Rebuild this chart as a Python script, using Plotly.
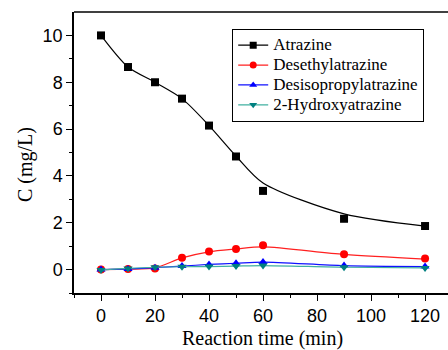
import plotly.graph_objects as go

time = [0, 10, 20, 30, 40, 50, 60, 90, 120]
atrazine = [10.0, 8.65, 8.0, 7.3, 6.15, 4.83, 3.36, 2.17, 1.86]
atrazine_fit = [10.0, 8.65, 8.0, 7.3, 6.15, 4.85, 3.7, 2.38, 1.86]
desethyl = [0.0, 0.02, 0.05, 0.51, 0.77, 0.88, 1.04, 0.65, 0.47]
desethyl_fit = [0.0, 0.02, 0.07, 0.5, 0.76, 0.88, 0.97, 0.65, 0.45]
desisopropyl = [0.0, 0.03, 0.08, 0.15, 0.22, 0.27, 0.32, 0.17, 0.13]
hydroxy = [-0.02, 0.05, 0.1, 0.12, 0.13, 0.15, 0.17, 0.1, 0.07]

names = ["Atrazine", "Desethylatrazine", "Desisopropylatrazine", "2-Hydroxyatrazine"]
line_colors = ["#000000", "#ff2020", "#1010ff", "#40b0a0"]
marker_colors = ["#000000", "#ff0000", "#0000ff", "#008080"]
symbols = ["square", "circle", "triangle-up", "triangle-down"]
markers_y = [atrazine, desethyl, desisopropyl, hydroxy]
fits_y = [atrazine_fit, desethyl_fit, desisopropyl, hydroxy]

fig = go.Figure()
for name, lc, mc, sym, my, fy in zip(names, line_colors, marker_colors, symbols, markers_y, fits_y):
    fig.add_trace(go.Scatter(
        x=time, y=fy, mode="lines", line=dict(color=lc, width=1.2, shape="spline", smoothing=0.8),
        showlegend=False, hoverinfo="skip"))
    fig.add_trace(go.Scatter(
        x=time, y=my, mode="markers", name=name,
        marker=dict(symbol=sym, size=8, color=mc), showlegend=False))

# legend entries with line + marker
for name, lc, mc, sym in zip(names, line_colors, marker_colors, symbols):
    fig.add_trace(go.Scatter(
        x=[None], y=[None], mode="lines+markers",
        name='<span style="font-size:17px">' + name + '</span>',
        line=dict(color=lc, width=1.2), marker=dict(symbol=sym, size=7, color=mc)))

L, R, T, B = 74, 0, 12, 57
pw = 448 - L - R
ph = 350 - T - B

fig.update_layout(
    width=448, height=350,
    margin=dict(l=L, r=R, t=T, b=B, autoexpand=False),
    paper_bgcolor="white", plot_bgcolor="white",
    font=dict(family="Liberation Sans, Arial", size=18, color="black"),
    showlegend=True,
    legend=dict(
        x=(232 - L) / pw, y=1 - (29 - T) / ph, xanchor="left", yanchor="top",
        font=dict(family="Liberation Serif, Times New Roman", size=13, color="black"),
        bordercolor="black", borderwidth=1.2, bgcolor="white",
        tracegroupgap=0,
    ),
    annotations=[
        dict(text="C (mg/L)", textangle=-90, x=(25 - L) / pw, y=1 - (165 - T) / ph,
             xref="paper", yref="paper", showarrow=False,
             font=dict(family="Liberation Serif, Times New Roman", size=20, color="black"),
             xanchor="center", yanchor="middle"),
        dict(text="Reaction time (min)", x=(262 - L) / pw, y=1 - (338 - T) / ph,
             xref="paper", yref="paper", showarrow=False,
             font=dict(family="Liberation Serif, Times New Roman", size=20, color="black"),
             xanchor="center", yanchor="middle"),
    ],
)

fig.update_xaxes(
    range=[-10, 128.5], tickvals=[0, 20, 40, 60, 80, 100, 120], automargin=False,
    showgrid=False, zeroline=False, showline=True, linecolor="black", linewidth=1.5,
    ticks="outside", ticklen=6, tickwidth=1.2, tickcolor="black",
    minor=dict(tickvals=[-10, 10, 30, 50, 70, 90, 110], ticks="outside", ticklen=3, tickcolor="black", tickwidth=1.2),
    tickfont=dict(size=18),
)
fig.update_yaxes(
    range=[-1, 11], tickvals=[0, 2, 4, 6, 8, 10], automargin=False,
    showgrid=False, zeroline=False, showline=True, linecolor="black", linewidth=1.5,
    ticks="outside", ticklen=6, tickwidth=1.2, tickcolor="black",
    minor=dict(tickvals=[-1, 1, 3, 5, 7, 9], ticks="outside", ticklen=3, tickcolor="black", tickwidth=1.2),
    tickfont=dict(size=18),
)
# top border line
fig.add_shape(type="line", xref="paper", yref="paper", x0=0, x1=1, y0=1, y1=1,
              line=dict(color="black", width=1.5))

fig.write_html("out.html", config={"displayModeBar": False},
               post_script="document.body.style.margin='0';document.body.style.overflow='hidden';")
